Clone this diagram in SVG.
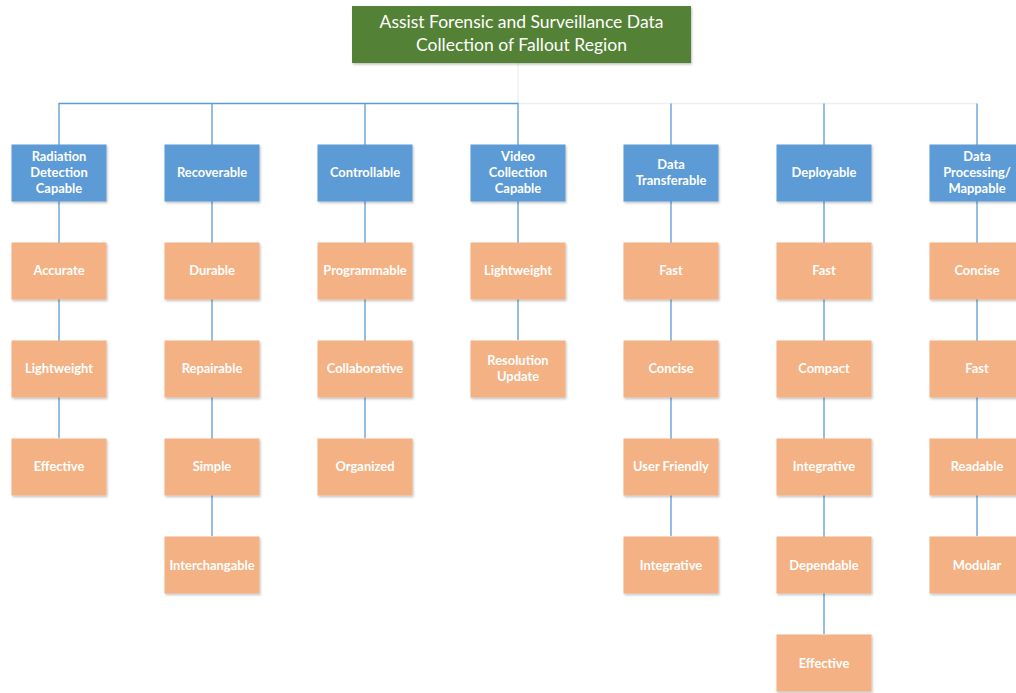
<svg xmlns="http://www.w3.org/2000/svg" width="1016" height="693" viewBox="0 0 1016 693">
<defs>
<filter id="sh" x="-10%" y="-10%" width="125%" height="130%">
<feDropShadow dx="1" dy="1.5" stdDeviation="1" flood-color="#000" flood-opacity="0.25"/>
</filter>
<style>
.b{fill:#5B9BD5;filter:url(#sh)}
.o{fill:#F4B183;filter:url(#sh)}
.g{fill:#538135;filter:url(#sh)}
.t{font-family:Lato,"Liberation Sans",sans-serif;font-size:12.9px;font-weight:bold;fill:#fff;text-anchor:middle}
.tt{font-family:Lato,"Liberation Sans",sans-serif;font-size:17.5px;fill:#fff;text-anchor:middle}
.c{stroke:#5B9BD5;stroke-width:1.3;fill:none}
.f{stroke:#ECEFF2;stroke-width:1.3;fill:none}
</style>
</defs>
<rect width="1016" height="693" fill="#fff"/>
<g id="connectors">
<path class="f" d="M518 63V103.5H977"/>
<path class="c" d="M59 145V103.5H518V145M212 103.5V145M365 103.5V145M671 103.5V145M824 103.5V145M977 103.5V145"/>
<path class="c" d="M59 201V438"/>
<path class="c" d="M212 201V536"/>
<path class="c" d="M365 201V438"/>
<path class="c" d="M518 201V340"/>
<path class="c" d="M671 201V536"/>
<path class="c" d="M824 201V634"/>
<path class="c" d="M977 201V536"/>
</g>
<g id="title"><rect class="g" x="352" y="6" width="339" height="57"/><text class="tt" x="521.5" y="28">Assist Forensic and Surveillance Data</text><text class="tt" x="521.5" y="51">Collection of Fallout Region</text></g>
<g id="n1"><rect class="b" x="11.5" y="144.5" width="95" height="57"/><text class="t" x="59" y="161">Radiation</text><text class="t" x="59" y="177">Detection</text><text class="t" x="59" y="193">Capable</text></g>
<g id="n2"><rect class="b" x="164.5" y="144.5" width="95" height="57"/><text class="t" x="212" y="177">Recoverable</text></g>
<g id="n3"><rect class="b" x="317.5" y="144.5" width="95" height="57"/><text class="t" x="365" y="177">Controllable</text></g>
<g id="n4"><rect class="b" x="470.5" y="144.5" width="95" height="57"/><text class="t" x="518" y="161">Video</text><text class="t" x="518" y="177">Collection</text><text class="t" x="518" y="193">Capable</text></g>
<g id="n5"><rect class="b" x="623.5" y="144.5" width="95" height="57"/><text class="t" x="671" y="169">Data</text><text class="t" x="671" y="185">Transferable</text></g>
<g id="n6"><rect class="b" x="776.5" y="144.5" width="95" height="57"/><text class="t" x="824" y="177">Deployable</text></g>
<g id="n7"><rect class="b" x="929.5" y="144.5" width="95" height="57"/><text class="t" x="977" y="161">Data</text><text class="t" x="977" y="177">Processing/</text><text class="t" x="977" y="193">Mappable</text></g>

<g id="n1a"><rect class="o" x="11.5" y="242.5" width="95" height="57"/><text class="t" x="59" y="275">Accurate</text></g>
<g id="n1b"><rect class="o" x="11.5" y="340.5" width="95" height="57"/><text class="t" x="59" y="373">Lightweight</text></g>
<g id="n1c"><rect class="o" x="11.5" y="438.5" width="95" height="57"/><text class="t" x="59" y="471">Effective</text></g>

<g id="n2a"><rect class="o" x="164.5" y="242.5" width="95" height="57"/><text class="t" x="212" y="275">Durable</text></g>
<g id="n2b"><rect class="o" x="164.5" y="340.5" width="95" height="57"/><text class="t" x="212" y="373">Repairable</text></g>
<g id="n2c"><rect class="o" x="164.5" y="438.5" width="95" height="57"/><text class="t" x="212" y="471">Simple</text></g>
<g id="n2d"><rect class="o" x="164.5" y="536.5" width="95" height="57"/><text class="t" x="212" y="570">Interchangable</text></g>

<g id="n3a"><rect class="o" x="317.5" y="242.5" width="95" height="57"/><text class="t" x="365" y="275">Programmable</text></g>
<g id="n3b"><rect class="o" x="317.5" y="340.5" width="95" height="57"/><text class="t" x="365" y="373">Collaborative</text></g>
<g id="n3c"><rect class="o" x="317.5" y="438.5" width="95" height="57"/><text class="t" x="365" y="471">Organized</text></g>

<g id="n4a"><rect class="o" x="470.5" y="242.5" width="95" height="57"/><text class="t" x="518" y="275">Lightweight</text></g>
<g id="n4b"><rect class="o" x="470.5" y="340.5" width="95" height="57"/><text class="t" x="518" y="365">Resolution</text><text class="t" x="518" y="381">Update</text></g>

<g id="n5a"><rect class="o" x="623.5" y="242.5" width="95" height="57"/><text class="t" x="671" y="275">Fast</text></g>
<g id="n5b"><rect class="o" x="623.5" y="340.5" width="95" height="57"/><text class="t" x="671" y="373">Concise</text></g>
<g id="n5c"><rect class="o" x="623.5" y="438.5" width="95" height="57"/><text class="t" x="671" y="471">User Friendly</text></g>
<g id="n5d"><rect class="o" x="623.5" y="536.5" width="95" height="57"/><text class="t" x="671" y="570">Integrative</text></g>

<g id="n6a"><rect class="o" x="776.5" y="242.5" width="95" height="57"/><text class="t" x="824" y="275">Fast</text></g>
<g id="n6b"><rect class="o" x="776.5" y="340.5" width="95" height="57"/><text class="t" x="824" y="373">Compact</text></g>
<g id="n6c"><rect class="o" x="776.5" y="438.5" width="95" height="57"/><text class="t" x="824" y="471">Integrative</text></g>
<g id="n6d"><rect class="o" x="776.5" y="536.5" width="95" height="57"/><text class="t" x="824" y="570">Dependable</text></g>
<g id="n6e"><rect class="o" x="776.5" y="634.5" width="95" height="57"/><text class="t" x="824" y="668">Effective</text></g>

<g id="n7a"><rect class="o" x="929.5" y="242.5" width="95" height="57"/><text class="t" x="977" y="275">Concise</text></g>
<g id="n7b"><rect class="o" x="929.5" y="340.5" width="95" height="57"/><text class="t" x="977" y="373">Fast</text></g>
<g id="n7c"><rect class="o" x="929.5" y="438.5" width="95" height="57"/><text class="t" x="977" y="471">Readable</text></g>
<g id="n7d"><rect class="o" x="929.5" y="536.5" width="95" height="57"/><text class="t" x="977" y="570">Modular</text></g>
</svg>
